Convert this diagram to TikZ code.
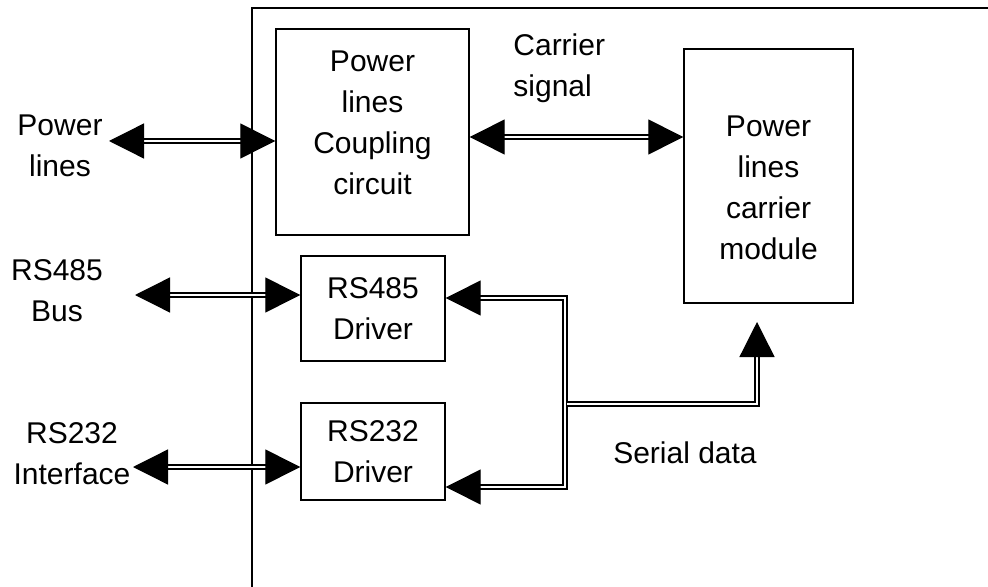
\documentclass[tikz,border=0pt]{standalone}
\usepackage{fontspec}
\setmainfont{Liberation Sans}
\usetikzlibrary{arrows.meta}
\begin{document}
\begin{tikzpicture}[x=0.5pt,y=-0.5pt,
  font=\fontsize{15}{20.5}\selectfont,
  box/.style={draw,line width=0.7pt,align=center,inner sep=0pt},
  txt/.style={align=center,inner sep=0pt},
  link/.style={line width=0.65pt,double,double distance=1.3pt},
  >={Triangle[length=17.5pt,width=17.5pt]}]
\useasboundingbox (0,0) rectangle (988,587);
%frame
\draw[line width=0.7pt] (252,587) -- (252,8) -- (988,8);
%blocks
\node[box,minimum width=96.5pt,minimum height=103pt] (coupling) at (372.5,132) {};
\node[txt,yshift=4.5pt] (couplingtxt) at (coupling) {Power\\lines\\Coupling\\circuit};
\node[box,minimum width=84.5pt,minimum height=127pt] (module) at (768.5,176) {};
\node[txt,yshift=-6pt] (moduletxt) at (module) {Power\\lines\\carrier\\module};
\node[box,minimum width=72pt,minimum height=52.5pt] (rs485) at (373,308.5) {RS485\\Driver};
\node[box,minimum width=72pt,minimum height=48.5pt] (rs232) at (373,451.5) {RS232\\Driver};
%labels
\node[txt] (lblpower) at (60,146) {Power\\lines};
\node[txt] (lblbus) at (57,291) {RS485\\Bus};
\node[txt] (lbliface) at (72,454) {RS232\\Interface};
\node[txt,align=left,anchor=west] (lblcarrier) at (513,68) {Carrier\\signal};
\node[txt] (lblserial) at (685,453) {Serial data};
%links
\coordinate (pwend) at (109,141);
\coordinate (busend) at (135,295);
\coordinate (ifend) at (133,467);
\coordinate (carry) at (470,137);
\draw[link,<->] (pwend) -- (coupling.west |- pwend);
\draw[link,<->] (busend) -- (rs485.west |- busend);
\draw[link,<->] (ifend) -- (rs232.west |- ifend);
\draw[link,<->] (coupling.east |- carry) -- (module.west |- carry);
%serial bus
\coordinate (jtop) at (565,298);
\coordinate (jmid) at (567,404);
\coordinate (jbot) at (565,487);
\coordinate (mtip) at (757,322);
\draw[link,<->] (rs485.east |- jtop) -- (jtop) -- (jbot) -- (rs232.east |- jbot);
\draw[link,->] (jmid) -- (mtip |- jmid) -- (mtip);
\end{tikzpicture}
\end{document}
